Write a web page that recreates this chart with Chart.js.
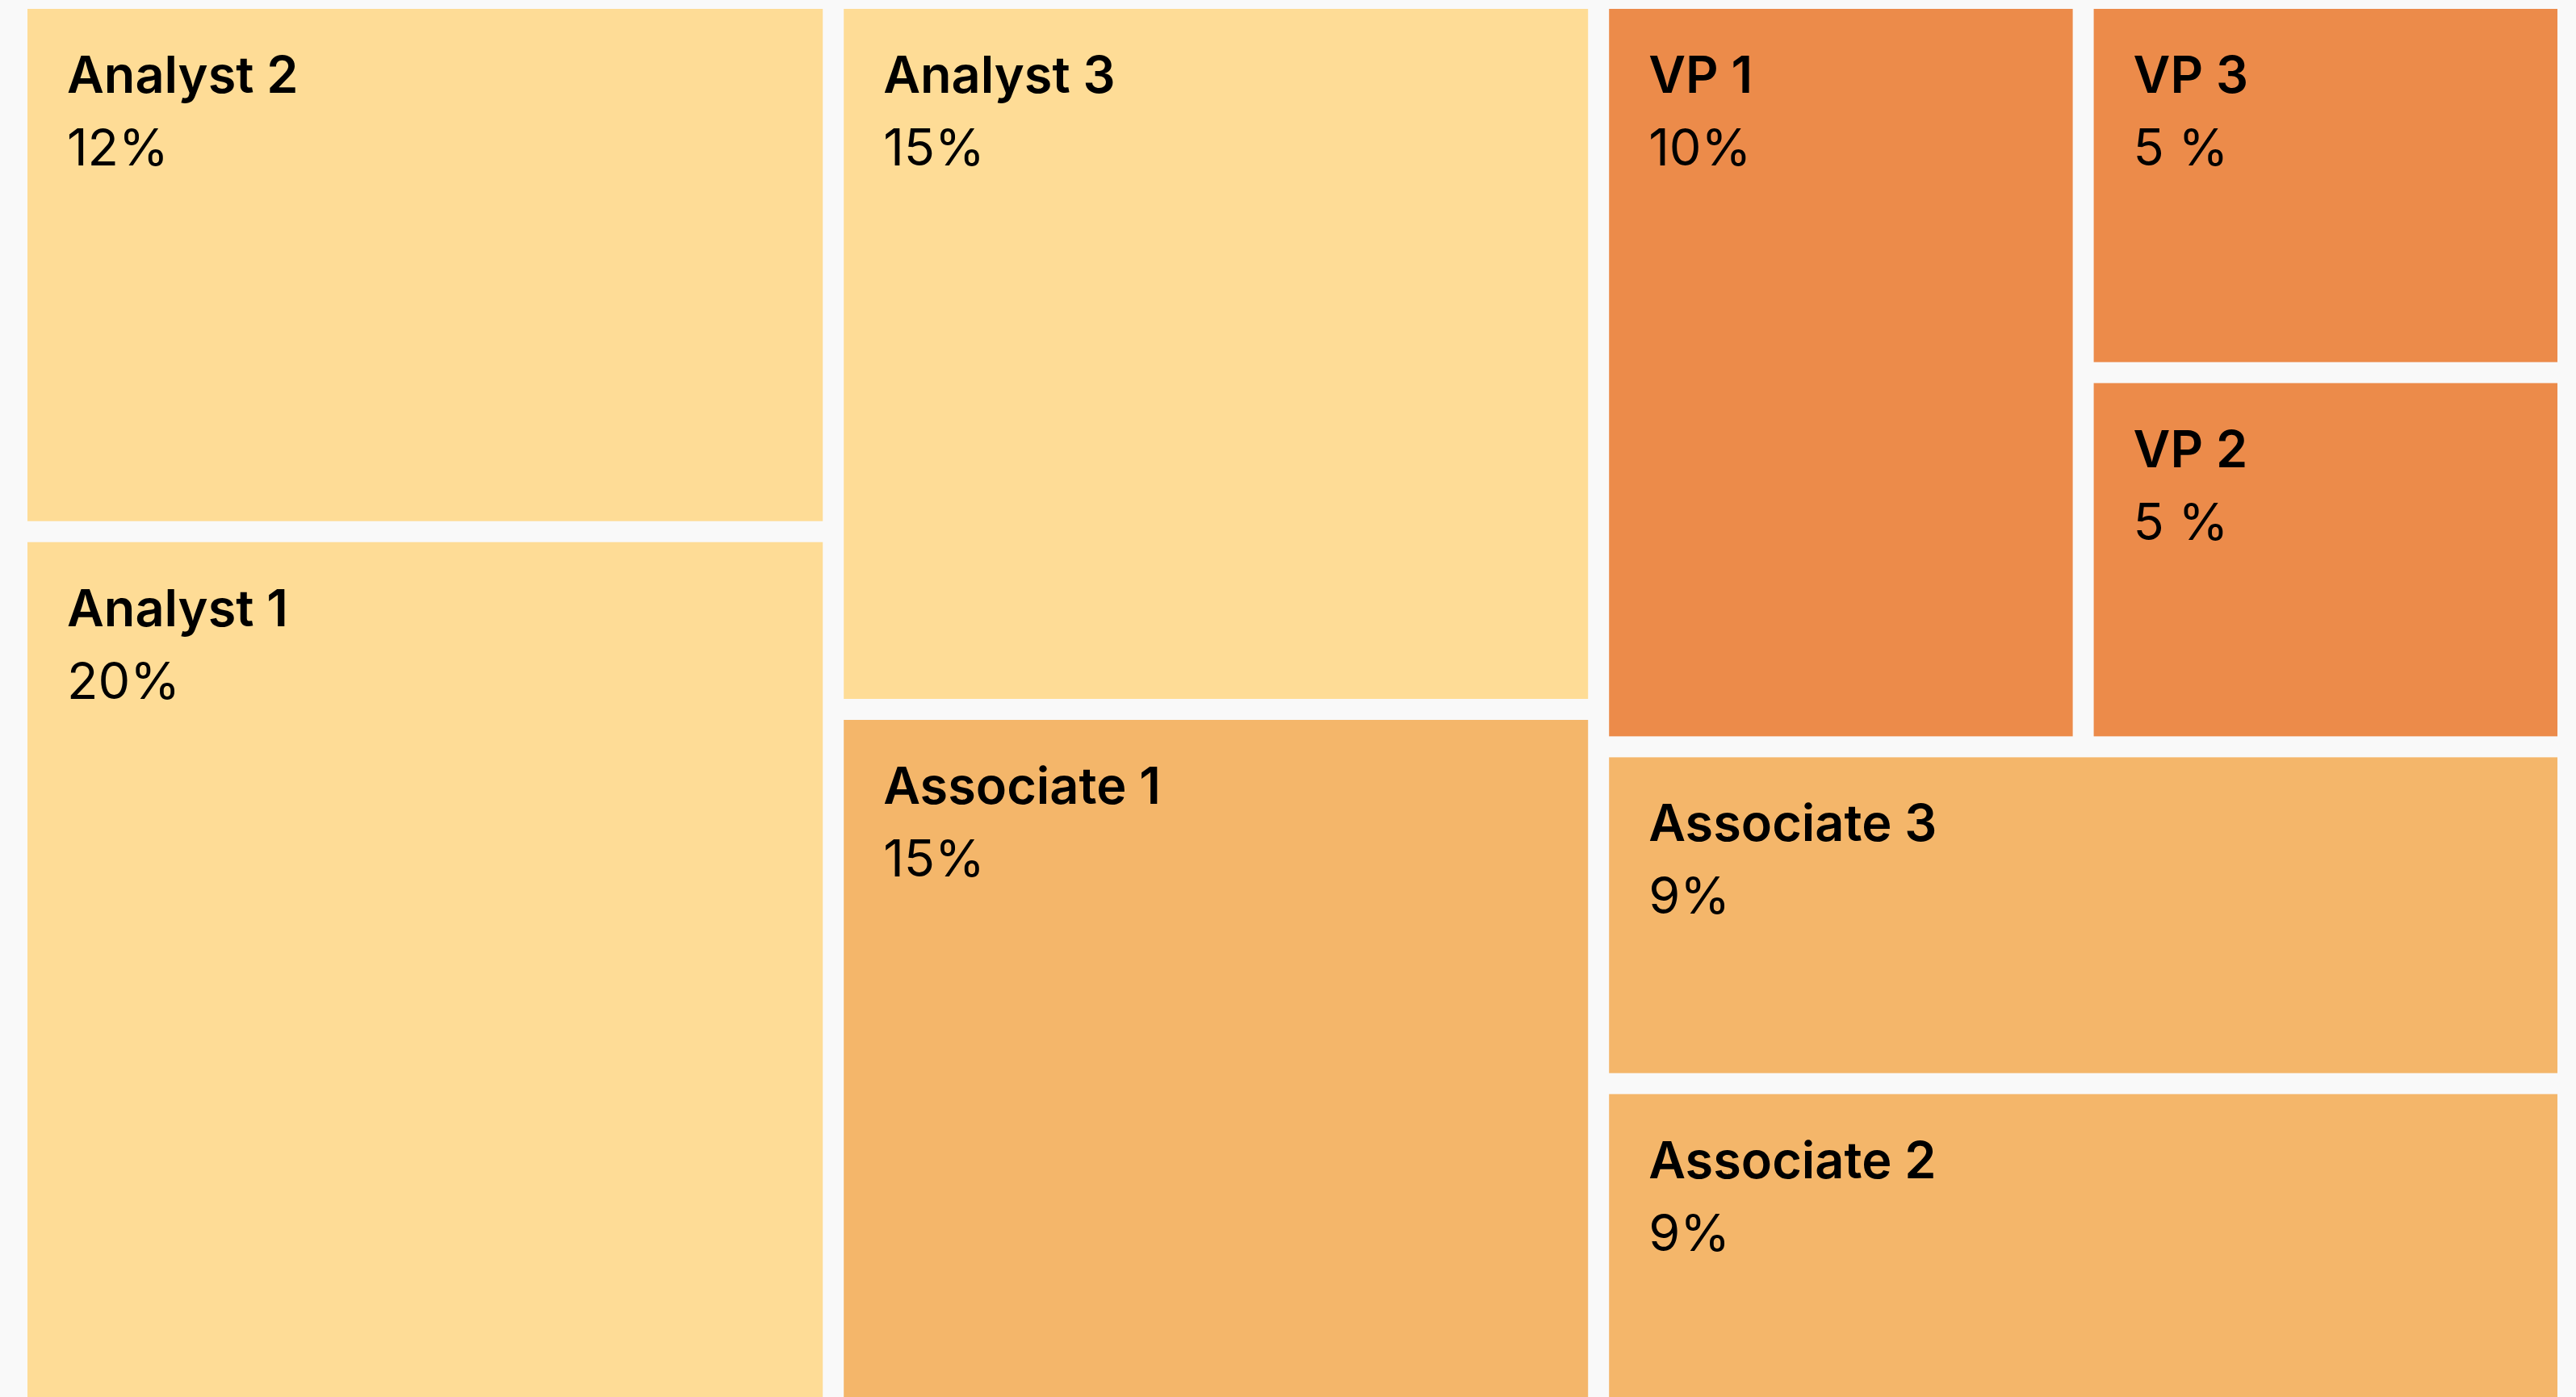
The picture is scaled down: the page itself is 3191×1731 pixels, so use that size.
<!DOCTYPE html>
<html>
<head>
<meta charset="utf-8">
<title>Team mix treemap</title>
<script src="https://cdn.jsdelivr.net/npm/chart.js@4.4.1/dist/chart.umd.min.js"></script>
<style>
  html, body { margin: 0; padding: 0; background: #f9f9f9; overflow: hidden; }
  #wrap { position: absolute; left: 0; top: -2px; width: 3191px; height: 1775px; }
</style>
</head>
<body>
<div id="wrap"><canvas id="chartTreemap"></canvas></div>
<script>
// Tiles, in the order they are laid out
const names = ['Analyst 2', 'Analyst 1', 'Analyst 3', 'Associate 1', 'VP 1', 'VP 3', 'VP 2', 'Associate 3', 'Associate 2'];
const shares = [12, 20, 15, 15, 10, 5, 5, 9, 9];
const shareLabels = ['12%', '20%', '15%', '15%', '10%', '5 %', '5 %', '9%', '9%'];
const levels = ['Analyst', 'Analyst', 'Analyst', 'Associate', 'VP', 'VP', 'VP', 'Associate', 'Associate'];
// nesting of the tiles (indexes into the arrays above): columns, then rows, then columns...
const groups = [[0, 1], [2, 3], [[4, [5, 6]], 7, 8]];

const levelColors = { Analyst: '#fedc96', Associate: '#f4b66a', VP: '#ec8b4a' };
const GAP = 26;

// slice and dice: sizes come from the shares, direction flips with each level
function total(node) {
    return Array.isArray(node) ? node.reduce((s, n) => s + total(n), 0) : shares[node];
}

function layout(node, x0, y0, x1, y1, splitX, out) {
    if (!Array.isArray(node)) {
        out.push({ i: node, x0: x0, y0: y0, x1: x1, y1: y1 });
        return out;
    }
    const sum = total(node);
    let pos = splitX ? x0 : y0;
    node.forEach(function (child) {
        const step = (splitX ? (x1 - x0) : (y1 - y0)) * total(child) / sum;
        if (splitX) layout(child, pos, y0, pos + step, y1, false, out);
        else layout(child, x0, pos, x1, pos + step, true, out);
        pos += step;
    });
    return out;
}

const tiles = layout(groups, 0, 0, 100, 100, true, []);

const treemapPlugin = {
    id: 'treemapTiles',
    beforeDatasetsDraw(chart) {
        const ctx = chart.ctx;
        const xs = chart.scales.x;
        const ys = chart.scales.y;
        ctx.save();
        tiles.forEach(function (t) {
            const left = xs.getPixelForValue(t.x0) + GAP / 2;
            const right = xs.getPixelForValue(t.x1) - GAP / 2;
            const top = ys.getPixelForValue(t.y0) + GAP / 2;
            const bottom = ys.getPixelForValue(t.y1) - GAP / 2;
            ctx.fillStyle = levelColors[levels[t.i]];
            ctx.fillRect(left, top, right - left, bottom - top);

            ctx.fillStyle = '#000';
            ctx.textAlign = 'left';
            ctx.textBaseline = 'alphabetic';
            ctx.font = '600 63px Inter';
            ctx.fillText(names[t.i], left + 49, top + 104);
            ctx.font = '400 63px Inter';
            ctx.fillText(shareLabels[t.i], left + 49, top + 194);
        });
        ctx.restore();
    }
};

const ctxTree = document.getElementById('chartTreemap').getContext('2d');
new Chart(ctxTree, {
    type: 'scatter',
    data: {
        datasets: [{
            label: 'Share',
            data: tiles.map(t => ({ x: (t.x0 + t.x1) / 2, y: (t.y0 + t.y1) / 2 })),
            pointRadius: 0,
            pointHoverRadius: 0
        }]
    },
    options: {
        responsive: true,
        maintainAspectRatio: false,
        animation: false,
        layout: { padding: { left: 21, right: 10, top: 0, bottom: 13 } },
        scales: {
            x: { type: 'linear', min: 0, max: 100, display: false },
            y: { type: 'linear', min: 0, max: 100, reverse: true, display: false }
        },
        plugins: {
            legend: { display: false },
            tooltip: { enabled: false }
        }
    },
    plugins: [treemapPlugin]
});
</script>
</body>
</html>
